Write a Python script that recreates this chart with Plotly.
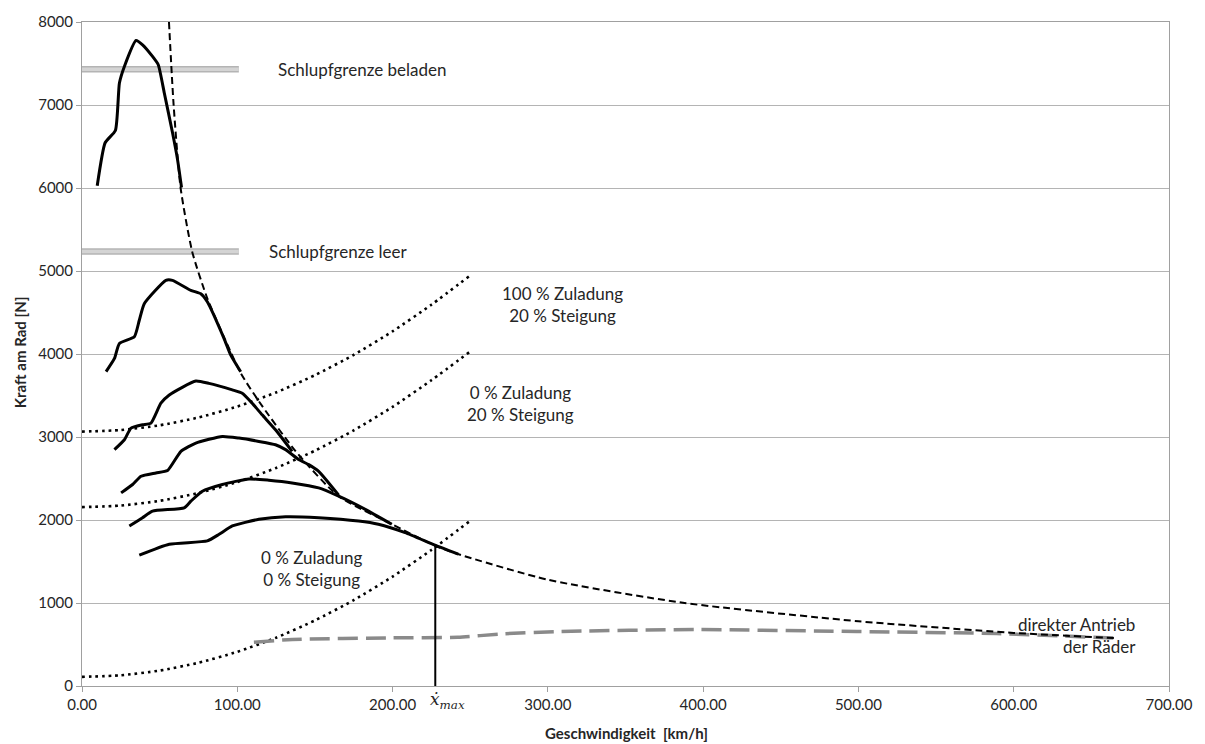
import plotly.graph_objects as go

# Zugkraft je Gang (Volllast), Geschwindigkeit in km/h, Kraft in N
gang1_v = [9.8, 14.9, 21.5, 24.1, 27.3, 34.8, 39.0, 45.4, 49.1, 53.0, 58.3, 61.5, 64.1]
gang1_f = [6026, 6545, 6693, 7265, 7465, 7777, 7725, 7585, 7485, 7145, 6665, 6345, 6006]

gang2_v = [15.5, 20.9, 24.1, 33.7, 36.9, 40.1, 54.0, 58.3, 70.1, 76.5, 80.8, 91.5, 95.8, 102.2]
gang2_f = [3787, 3946, 4127, 4207, 4407, 4606, 4887, 4887, 4767, 4726, 4626, 4186, 3987, 3787]

gang3_v = [20.9, 27.3, 31.6, 39.0, 44.4, 50.8, 56.2, 73.3, 81.8, 96.8, 103.2, 109.6, 116.0, 124.6, 135.3]
gang3_f = [2848, 2967, 3107, 3147, 3167, 3407, 3507, 3675, 3646, 3567, 3527, 3407, 3267, 3087, 2827]

gang4_v = [25.2, 32.6, 38.0, 47.6, 55.1, 63.7, 73.3, 90.4, 101.1, 113.9, 124.6, 131.1, 139.6, 146.0, 152.4, 165.3]
gang4_f = [2327, 2428, 2527, 2567, 2596, 2827, 2927, 3007, 2987, 2947, 2907, 2848, 2728, 2667, 2587, 2300]

gang5_v = [30.5, 39.0, 45.4, 65.8, 70.1, 77.5, 90.4, 107.5, 120.3, 135.3, 152.4, 165.3, 182.4, 199.5]
gang5_f = [1927, 2027, 2107, 2147, 2227, 2347, 2428, 2495, 2479, 2447, 2387, 2287, 2128, 1948]

gang6_v = [36.9, 56.2, 80.7, 88.3, 96.8, 113.9, 131.1, 152.4, 178.1, 190.9, 208.1, 227.3, 242.3]
gang6_f = [1576, 1708, 1748, 1828, 1928, 2008, 2039, 2027, 1987, 1948, 1847, 1696, 1588]

# Ideale Zugkrafthyperbel
hyperbel_v = [56.0, 59.0, 63.5, 71.0, 80.7, 92.0, 102.2, 113.9, 137.5, 165.0, 199.5, 227.5, 242.0,
              300.0, 388.0, 500.0, 600.0, 667.0]
hyperbel_f = [8000, 7000, 6000, 5230, 4670, 4180, 3770, 3430, 2830, 2290, 1950, 1690, 1590,
              1280, 1000, 780, 640, 575]

# Fahrwiderstände
widerstand_v = [0, 25, 50, 75, 100, 125, 150, 175, 200, 225, 250]
widerstand_0_0 = [110, 129, 186, 280, 412, 582, 790, 1035, 1318, 1639, 1990]
widerstand_0_20 = [2155, 2174, 2231, 2325, 2457, 2627, 2835, 3080, 3363, 3684, 4030]
widerstand_100_20 = [3065, 3084, 3141, 3235, 3367, 3537, 3745, 3990, 4273, 4594, 4946]

# Direkter Antrieb der Räder
direkt_v = [110.7, 135.3, 199.5, 242.0, 271.0, 306.0, 396.0, 499.0, 589.0, 667.0]
direkt_f = [528, 560, 580, 588, 628, 656, 680, 656, 632, 575]

# Schlupfgrenzen
schlupf_v = [0, 101]
schlupf_beladen = 7430
schlupf_leer = 5236

# Höchstgeschwindigkeit
vmax_v = 227.5
vmax_f = 1690

x_ticks = [0, 100, 200, 300, 400, 500, 600, 700]
y_ticks = [0, 1000, 2000, 3000, 4000, 5000, 6000, 7000, 8000]

fig = go.Figure()

def add_line(x, y, color, width, dash="solid", shape="spline", smoothing=0.6):
    line = dict(color=color, width=width, dash=dash, shape=shape)
    if shape == "spline":
        line["smoothing"] = smoothing
    fig.add_trace(go.Scatter(x=x, y=y, mode="lines", hoverinfo="skip", line=line))

for level in (schlupf_beladen, schlupf_leer):
    add_line(schlupf_v, [level, level], "#b4b4b4", 6.5, shape="linear")
    add_line(schlupf_v, [level, level], "#d4d4d4", 3.5, shape="linear")

for f in (widerstand_0_0, widerstand_0_20, widerstand_100_20):
    add_line(widerstand_v, f, "black", 2.6, dash="2.6px,4px")

add_line(direkt_v, direkt_f, "#8a8a8a", 3.5, dash="20px,8px")
add_line(hyperbel_v, hyperbel_f, "black", 2, dash="7px,4px")

for v, f in ((gang1_v, gang1_f), (gang2_v, gang2_f), (gang3_v, gang3_f),
             (gang4_v, gang4_f), (gang5_v, gang5_f), (gang6_v, gang6_f)):
    add_line(v, f, "black", 3, smoothing=0.5)

add_line([vmax_v, vmax_v], [0, vmax_f], "black", 2, shape="linear")

txt = dict(family="Lato, 'Open Sans', sans-serif", size=17, color="#262626")
notes = [
    ("Schlupfgrenze beladen", 124.9, 7430, "left", "left"),
    ("Schlupfgrenze leer", 119.1, 5236, "left", "left"),
    ("100 % Zuladung<br>20 % Steigung", 309.7, 4596, "center", "center"),
    ("0 % Zuladung<br>20 % Steigung", 282.1, 3409, "center", "center"),
    ("0 % Zuladung<br>0 % Steigung", 147.9, 1418, "center", "center"),
    ("direkter Antrieb<br>der Räder", 680.0, 608, "right", "right"),
]
for text, x, y, xa, al in notes:
    fig.add_annotation(x=x, y=y, xref="x", yref="y", text=text, showarrow=False,
                       xanchor=xa, yanchor="middle", align=al, font=txt)

fig.add_annotation(x=222.7, y=0, xref="x", yref="paper", yanchor="top", xanchor="left",
                   yshift=-1, showarrow=False,
                   text="<i>ẋ</i><sub><i>max</i></sub>",
                   font=dict(family="'DejaVu Serif', 'Liberation Serif', serif", size=17, color="#262626"))

title_font = dict(family="Lato, 'Open Sans', sans-serif", size=15, color="#262626")
fig.add_annotation(x=-0.0569, y=0.503, xref="paper", yref="paper", text="<b>Kraft am Rad [N]</b>",
                   textangle=-90, showarrow=False, font=title_font, xanchor="center", yanchor="middle")
fig.add_annotation(x=0.5007, y=-0.0704, xref="paper", yref="paper", text="<b>Geschwindigkeit  [km/h]</b>",
                   showarrow=False, font=title_font, xanchor="center", yanchor="middle")

tick_font = dict(family="Lato, 'Open Sans', sans-serif", size=15, color="#262626")
fig.update_xaxes(range=[0, 700], tickvals=x_ticks, tickformat=".2f", showgrid=False,
                 showline=True, linecolor="#a0a0a0", linewidth=1, mirror=True,
                 ticks="outside", ticklen=5, tickcolor="#a0a0a0", tickfont=tick_font, zeroline=False)
fig.update_yaxes(range=[0, 8000], tickvals=y_ticks, tickformat="d", showgrid=True,
                 gridcolor="#b4b4b4", gridwidth=1,
                 showline=True, linecolor="#a0a0a0", linewidth=1, mirror=True,
                 ticks="outside", ticklen=5, tickcolor="#a0a0a0", tickfont=tick_font, zeroline=False)

fig.update_layout(width=1205, height=744, showlegend=False,
                  margin=dict(l=82, r=32, t=18, b=58),
                  plot_bgcolor="white", paper_bgcolor="white")

fig.write_html("out.html")
